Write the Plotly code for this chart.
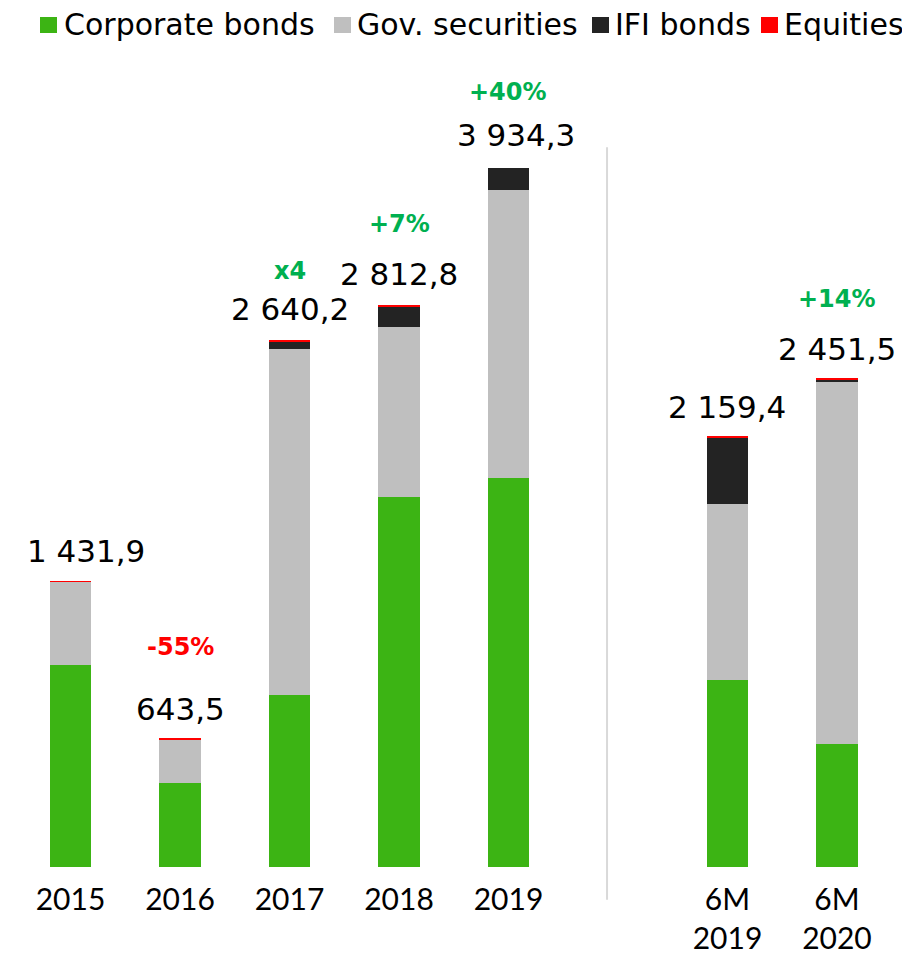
import plotly.graph_objects as go

# ---- data ----
categories = ["2015", "2016", "2017", "2018", "2019", "6M<br>2019", "6M<br>2020"]
positions = [0, 1, 2, 3, 4, 6, 7]
corporate_bonds = [1010, 422, 861, 1853, 1948, 936, 616]
gov_securities = [417, 217, 1733, 851, 1442, 881, 1813]
ifi_bonds = [0, 0, 35, 100, 110, 335, 10]
equities = [5, 4.5, 10, 8, 0, 7, 10]
total_labels = ["1 431,9", "643,5", "2 640,2", "2 812,8", "3 934,3", "2 159,4", "2 451,5"]
change_labels = ["", "-55%", "x4", "+7%", "+40%", "", "+14%"]
series_names = ["Corporate bonds", "Gov. securities", "IFI bonds", "Equities"]

# ---- styling ----
GREEN = "#3cb414"
GRAY = "#bfbfbf"
BLACK = "#232323"
RED = "#ff0000"
POS = "#00b050"
NUM_FONT = "DejaVu Sans, sans-serif"
TICK_FONT = "Lato, DejaVu Sans, sans-serif"
LEG_FONT = "DejaVu Sans, sans-serif"
BAR_W = 0.375
colors = [GREEN, GRAY, BLACK, RED]

# page body adds an 8px margin, so the figure is sized to fit the window
W, H = 902, 948
PLOT_H = 859  # plot area height (top margin 0)

fig = go.Figure()
for name, vals, col in zip(series_names, [corporate_bonds, gov_securities, ifi_bonds, equities], colors):
    fig.add_trace(go.Bar(
        x=positions, y=vals, name=name, width=BAR_W,
        marker=dict(color=col, line=dict(width=0)),
        hoverinfo="skip", showlegend=False,
    ))

tops = [a + b + c + d for a, b, c, d in zip(corporate_bonds, gov_securities, ifi_bonds, equities)]
total_shift = [30, 29, 31, 31, 33, 29, 29]
total_xshift = [15, 0, 0, 0, 8, 0, 0]
change_shift = [0, 62, 38, 50, 43, 0, 50]

annotations = []
for i, (p, t) in enumerate(zip(positions, tops)):
    annotations.append(dict(
        x=p, y=t, xref="x", yref="y", text=total_labels[i], showarrow=False,
        yanchor="middle", xanchor="center", yshift=total_shift[i], xshift=total_xshift[i],
        font=dict(family=NUM_FONT, size=31, color="black"),
    ))
    if change_labels[i]:
        col = RED if change_labels[i].startswith("-") else POS
        annotations.append(dict(
            x=p, y=t, xref="x", yref="y", text="<b>" + change_labels[i] + "</b>",
            showarrow=False, yanchor="middle", xanchor="center",
            yshift=total_shift[i] + change_shift[i],
            font=dict(family=NUM_FONT, size=24, color=col),
        ))

# custom legend (squares + text) along the top
leg_sq_x = [32, 326, 584, 753]
leg_txt_x = [54, 347, 605, 774]
leg_y = 17
shapes = []
for sx, tx, name, col in zip(leg_sq_x, leg_txt_x, series_names, colors):
    shapes.append(dict(
        type="rect", xref="paper", yref="paper",
        x0=sx / W, x1=(sx + 17) / W,
        y0=1 - (leg_y + 8) / PLOT_H, y1=1 - (leg_y - 8) / PLOT_H,
        fillcolor=col, line=dict(width=0),
    ))
    annotations.append(dict(
        x=tx / W, y=1 - leg_y / PLOT_H, xref="paper", yref="paper", text=name,
        showarrow=False, xanchor="left", yanchor="middle",
        font=dict(family=LEG_FONT, size=30, color="black"),
    ))

shapes.append(dict(
    type="line", xref="x", yref="paper", x0=4.9, x1=4.9, y0=-0.038, y1=0.838,
    line=dict(color="#d9d9d9", width=2),
))

fig.update_layout(
    width=W, height=H,
    barmode="stack",
    plot_bgcolor="white", paper_bgcolor="white",
    margin=dict(l=0, r=0, t=0, b=H - PLOT_H),
    showlegend=False,
    hovermode=False,
    annotations=annotations,
    shapes=shapes,
)
fig.update_xaxes(
    range=[-0.571, 7.667], tickvals=positions, ticktext=categories,
    showgrid=False, zeroline=False, showline=False, ticks="",
    tickfont=dict(family=TICK_FONT, size=30, color="black"),
    automargin=False, ticklabelstandoff=12,
)
fig.update_yaxes(range=[0, 4301], visible=False, showgrid=False, zeroline=False,
                 automargin=False)

fig.write_html("out.html")
